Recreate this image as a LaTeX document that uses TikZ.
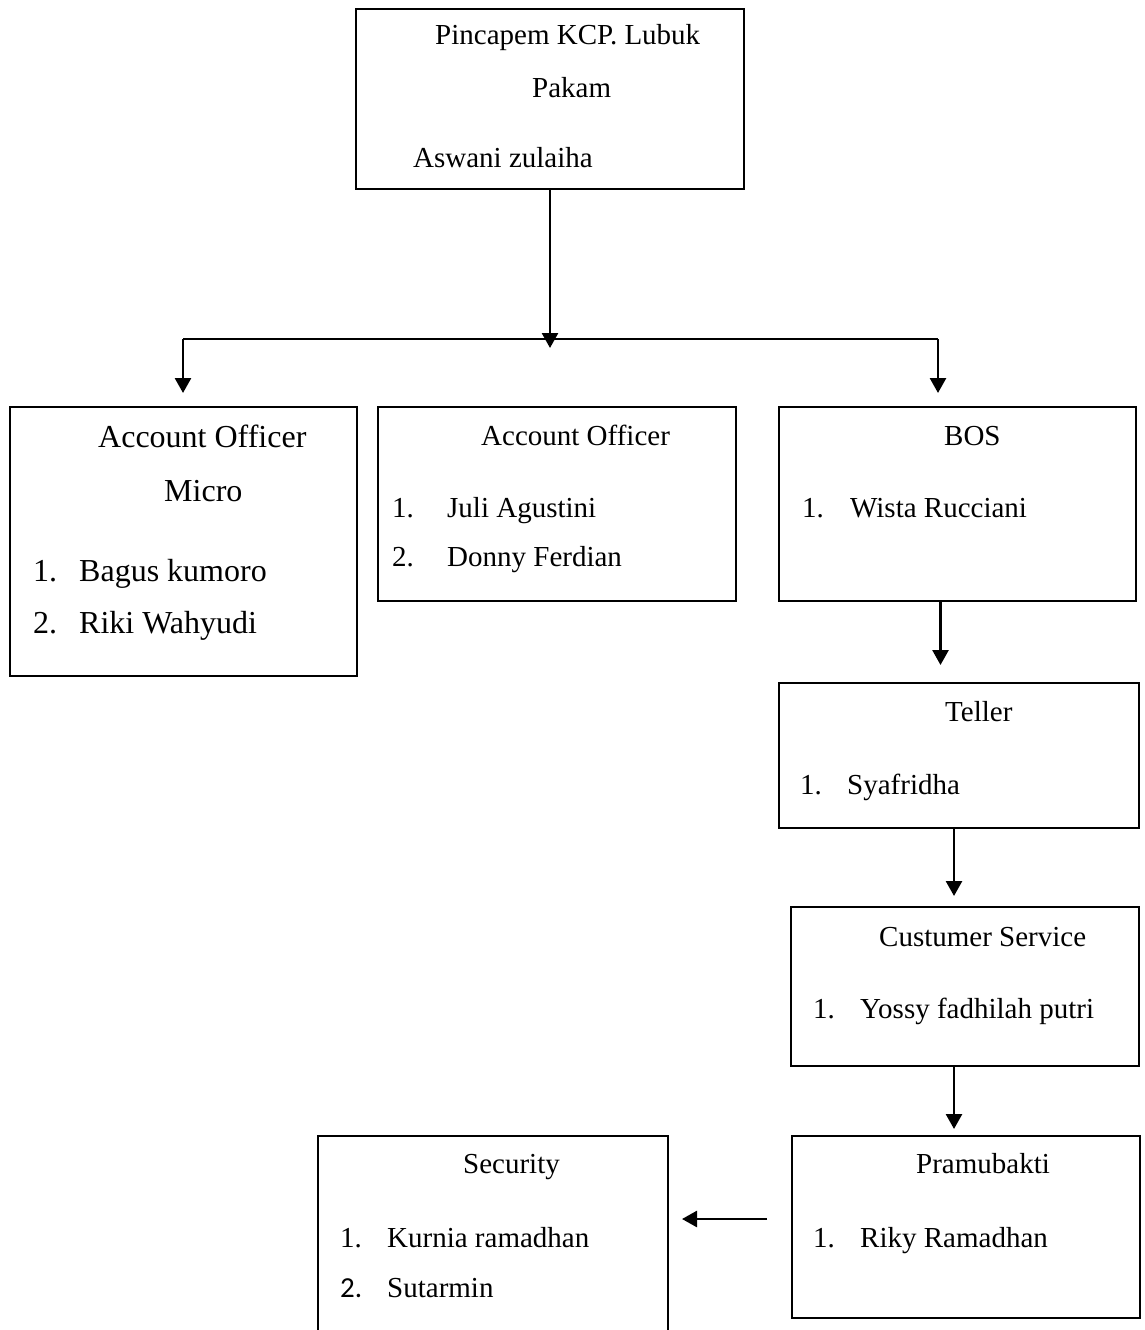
\documentclass[tikz,border=0pt]{standalone}
\usepackage{fontspec}
\setmainfont{Liberation Serif}
\newfontfamily\calfont{Carlito}
\usetikzlibrary{arrows.meta}
\begin{document}
\begin{tikzpicture}[x=1pt,y=-1pt,
  box/.style={draw,line width=2.1pt,inner sep=0pt,outer sep=0pt},
  ln/.style={line width=2.5pt},
  arr/.style={line width=2.7pt,-{Triangle[length=15pt,width=16pt]}},
  txt/.style={anchor=base west,inner sep=0pt,font=\fontsize{29}{34}\selectfont},
  big/.style={anchor=base west,inner sep=0pt,font=\fontsize{32}{38}\selectfont}]
\clip (0,0) rectangle (1144,1330);
\fill[white] (0,0) rectangle (1144,1330);
% boxes
\node[box,minimum width=388pt,minimum height=180pt] (top) at (550,99) {};
\node[box,minimum width=347pt,minimum height=269pt] (b1) at (183.5,541.5) {};
\node[box,minimum width=358pt,minimum height=194pt] (b2) at (557,504) {};
\node[box,minimum width=357pt,minimum height=194pt] (b3) at (957.5,504) {};
\node[box,minimum width=360pt,minimum height=145pt] (teller) at (959,755.5) {};
\node[box,minimum width=348pt,minimum height=159pt] (cs) at (965,986.5) {};
\node[box,minimum width=348pt,minimum height=182pt] (pram) at (966,1227) {};
\node[inner sep=0pt,outer sep=0pt,minimum width=350pt,minimum height=214pt] (sec) at (493,1243) {};
\draw[line width=2.1pt] (sec.south west) -- (sec.north west) -- (sec.north east) -- (sec.south east);
% texts
\node[txt] (t1) at (435,45) {Pincapem KCP. Lubuk};
\node[txt] (t2) at (532,97) {Pakam};
\node[txt] (t3) at (413,167) {Aswani zulaiha};
\node[big] (a1) at (98,447) {Account Officer};
\node[big] (a2) at (164,501) {Micro};
\node[big] (a3) at (33,581) {1.};
\node[big] (a4) at (79,581) {Bagus kumoro};
\node[big] (a5) at (33,633) {2.};
\node[big] (a6) at (79,633) {Riki Wahyudi};
\node[txt] (c1) at (481,445) {Account Officer};
\node[txt] (c2) at (392,517) {1.};
\node[txt] (c3) at (447,517) {Juli Agustini};
\node[txt] (c4) at (392,566) {2.};
\node[txt] (c5) at (447,566) {Donny Ferdian};
\node[txt] (d1) at (944,445) {BOS};
\node[txt] (d2) at (802,517) {1.};
\node[txt] (d3) at (850,517) {Wista Rucciani};
\node[txt] (e1) at (945,721) {Teller};
\node[txt] (e2) at (800,794) {1.};
\node[txt] (e3) at (847,794) {Syafridha};
\node[txt] (f1) at (879,946) {Custumer Service};
\node[txt] (f2) at (813,1018) {1.};
\node[txt] (f3) at (860,1018) {Yossy fadhilah putri};
\node[txt] (g1) at (916,1173) {Pramubakti};
\node[txt] (g2) at (813,1247) {1.};
\node[txt] (g3) at (860,1247) {Riky Ramadhan};
\node[txt] (h1) at (463,1173) {Security};
\node[txt] (h2) at (340,1247) {1.};
\node[txt] (h3) at (387,1247) {Kurnia ramadhan};
\node[txt,font=\calfont\fontsize{29}{34}\selectfont] (h4) at (340,1297) {2.};
\node[txt] (h5) at (387,1297) {Sutarmin};
% connectors
\coordinate (hub) at (550,339);
\coordinate (hl) at (183,339);
\coordinate (hr) at (938,339);
\draw[arr] (top.south) -- ([yshift=-9pt]hub);
\draw[ln] (hl) -- (hr);
\draw[arr,shorten >=14pt] (hl) -- (hl |- b1.north);
\draw[arr,shorten >=14pt] (hr) -- (hr |- b3.north);
\draw[arr,shorten >=18pt] ([xshift=-17pt]b3.south) -- ([xshift=-17pt]b3.south |- teller.north);
\draw[arr,shorten >=11pt] ([xshift=-5pt]teller.south) -- ([xshift=-5pt]teller.south |- cs.north);
\draw[arr,shorten >=7pt] ([xshift=-11pt]cs.south) -- ([xshift=-11pt]cs.south |- pram.north);
\draw[arr,shorten <=25pt,shorten >=14pt] ([yshift=8pt]pram.west) -- ([yshift=8pt]pram.west -| sec.east);
\end{tikzpicture}
\end{document}
